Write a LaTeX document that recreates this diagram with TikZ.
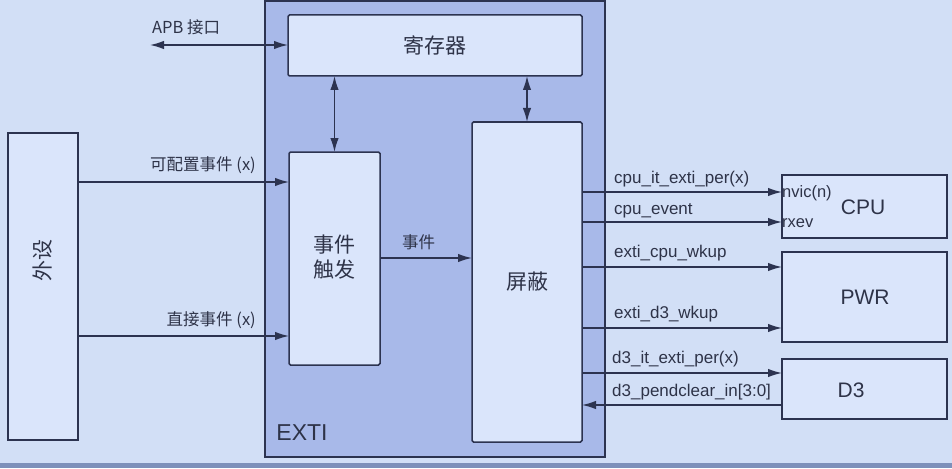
\documentclass[tikz,border=0pt]{standalone}
\usepackage{fontspec}
\setmainfont{Liberation Sans}
\newfontfamily\cjk{Noto Sans CJK SC}
\usetikzlibrary{arrows.meta}
\definecolor{bgc}{HTML}{D2DFF6}
\definecolor{extic}{HTML}{A8B9E9}
\definecolor{boxc}{HTML}{DAE5FB}
\definecolor{linec}{HTML}{2C3350}
\definecolor{txtc}{HTML}{2E3348}
\definecolor{stripc}{HTML}{7E90BA}
\tikzset{
  blk/.style={draw=linec, fill=boxc, line width=1.5pt, rounded corners=1.5pt, anchor=north west, inner sep=0pt, outer sep=0pt},
  arr/.style={draw=linec, line width=1.5pt, -{Latex[length=14pt,width=8.5pt]}},
  dbl/.style={draw=linec, line width=1.5pt, {Latex[length=14pt,width=8.5pt]}-{Latex[length=14pt,width=8.5pt]}},
  sig/.style={text=txtc, font=\fontsize{17}{20}\selectfont, inner sep=0pt, anchor=base west},
  cn/.style={text=txtc, font=\cjk\fontsize{16.5}{19}\selectfont, inner sep=0pt},
  big/.style={text=txtc, font=\cjk\fontsize{21}{25}\selectfont, inner sep=0pt, align=center},
  tag/.style={text=txtc, font=\fontsize{21}{24}\selectfont, inner sep=0pt},
}
\begin{document}
\begin{tikzpicture}[x=1pt,y=-1pt]
\useasboundingbox (0,0) rectangle (952,468);
\fill[bgc] (0,0) rectangle (952,468);
\fill[stripc] (0,463) rectangle (952,468);
% EXTI container
\node[blk, fill=extic, rounded corners=0pt, minimum width=340pt, minimum height=456pt] (exti) at (265,1) {};
\node[tag, font=\fontsize{23}{26}\selectfont] (extil) at (302,433) {EXTI};
% blocks
\node[blk, minimum width=294pt, minimum height=61pt] (reg) at (288,15) {};
\node[big] (regl) at (reg.center) {寄存器};
\node[blk, minimum width=91pt, minimum height=213pt] (trig) at (289,152) {};
\node[big] (trigl) at (334,257) {事件\\触发};
\node[blk, minimum width=110pt, minimum height=320pt] (mask) at (472,122) {};
\node[big] (maskl) at (527,282) {屏蔽};
\node[blk, rounded corners=0pt, minimum width=70pt, minimum height=307pt] (per) at (8,133) {};
\node[big, rotate=90] (perl) at (43,260) {外设};
\node[blk, rounded corners=0pt, minimum width=165pt, minimum height=63pt] (cpu) at (782,175) {};
\node[tag] (cpul) at (863,207) {CPU};
\node[blk, rounded corners=0pt, minimum width=165pt, minimum height=90pt] (pwr) at (782,252) {};
\node[tag] (pwrl) at (865,297) {PWR};
\node[blk, rounded corners=0pt, minimum width=165pt, minimum height=60pt] (d3) at (782,359) {};
\node[tag] (d3l) at (851,390) {D3};
% APB
\coordinate (apb) at (150,45);
\draw[dbl] (apb) -- (reg.west |- apb);
\node[cn, anchor=south west] (apbl) at (152,35) {APB 接口};
% peripheral inputs
\draw[arr] (per.east |- 0,182) -- (trig.west |- 0,182);
\node[cn, anchor=south east] (cfgl) at (256,174) {可配置事件 (x)};
\draw[arr] (per.east |- 0,336) -- (trig.west |- 0,336);
\node[cn, anchor=south east] (dirl) at (256,329) {直接事件 (x)};
% register links
\draw[dbl] (trig.north) -- (reg.south -| trig.north);
\draw[dbl] (mask.north) -- (reg.south -| mask.north);
% event
\draw[arr] (trig.east |- 0,258) -- (mask.west |- 0,258);
\node[cn, anchor=south west] (evl) at (402,250) {事件};
% outputs
\draw[arr] (mask.east |- 0,192) -- (cpu.west |- 0,192);
\node[sig] (s1) at (614,183) {cpu\_it\_exti\_per(x)};
\draw[arr] (mask.east |- 0,222) -- (cpu.west |- 0,222);
\node[sig] (s2) at (614,214) {cpu\_event};
\draw[arr] (mask.east |- 0,267) -- (pwr.west |- 0,267);
\node[sig] (s3) at (614,257) {exti\_cpu\_wkup};
\draw[arr] (mask.east |- 0,328) -- (pwr.west |- 0,328);
\node[sig] (s4) at (614,318) {exti\_d3\_wkup};
\draw[arr] (mask.east |- 0,373) -- (d3.west |- 0,373);
\node[sig] (s5) at (612,363) {d3\_it\_exti\_per(x)};
\draw[arr] (d3.west |- 0,405) -- (mask.east |- 0,405);
\node[sig] (s6) at (612,396) {d3\_pendclear\_in[3:0]};
\node[sig, font=\fontsize{16.5}{19}\selectfont, anchor=west] (nv) at (782,193) {nvic(n)};
\node[sig, font=\fontsize{16.5}{19}\selectfont, anchor=west] (rx) at (782,223) {rxev};
\end{tikzpicture}
\end{document}
